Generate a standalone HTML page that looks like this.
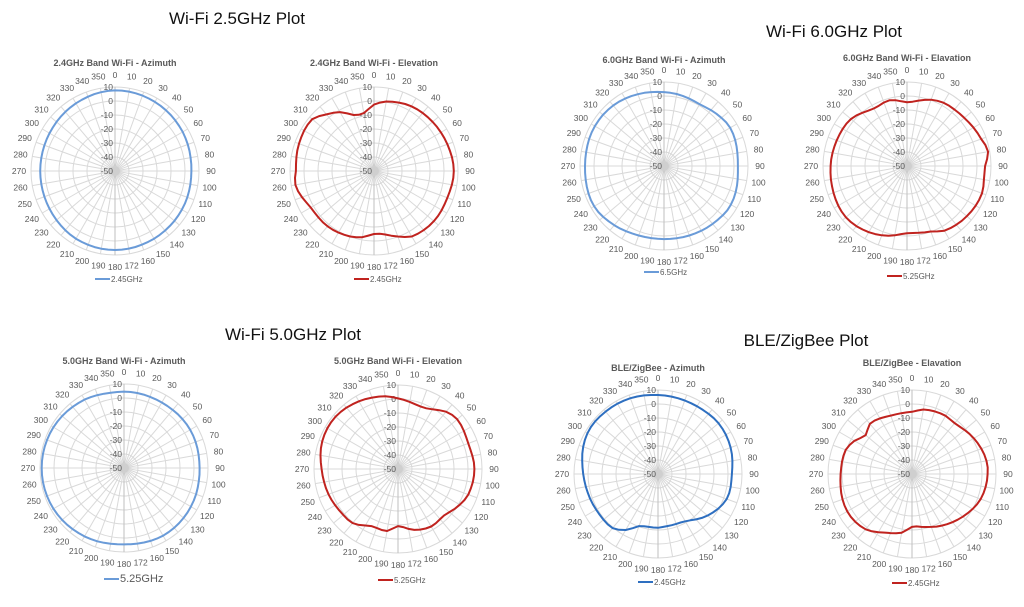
<!DOCTYPE html>
<html><head><meta charset="utf-8">
<style>
html,body{margin:0;padding:0;background:#fff;}
body{width:1024px;height:602px;overflow:hidden;}
svg text{font-family:"Liberation Sans",sans-serif;}
</style></head>
<body>
<svg id="s" width="1024" height="602" viewBox="0 0 1024 602" xmlns="http://www.w3.org/2000/svg">
<text x="237" y="24" font-size="17" text-anchor="middle" fill="#111">Wi-Fi 2.5GHz Plot</text>
<text x="834" y="37" font-size="17" text-anchor="middle" fill="#111">Wi-Fi 6.0GHz Plot</text>
<text x="293" y="340" font-size="17" text-anchor="middle" fill="#111">Wi-Fi 5.0GHz Plot</text>
<text x="806" y="346" font-size="17" text-anchor="middle" fill="#111">BLE/ZigBee Plot</text>
</svg>
<script>
var S=document.getElementById('s'),NS='http://www.w3.org/2000/svg';
function el(t,a,txt){var e=document.createElementNS(NS,t);for(var k in a)e.setAttribute(k,a[k]);if(txt!==undefined)e.textContent=txt;S.appendChild(e);return e;}
var B='#6a9bd8',BD='#2e6fc0',RD='#c0231f';
var plots=[
{cx:115,cy:171,t:'2.4GHz Band Wi-Fi - Azimuth',ty:62,ly:279,lg:'2.45GHz',c:B,d:[[0,.96],[30,.95],[60,.93],[90,.91],[120,.92],[150,.93],[180,.94],[210,.93],[240,.9],[270,.89],[300,.9],[330,.93]]},
{cx:374,cy:171,t:'2.4GHz Band Wi-Fi - Elevation',ty:62,ly:279,lg:'2.45GHz',c:RD,d:[[0,.79],[10,.84],[30,.89],[50,.91],[70,.93],[90,.95],[110,.93],[130,.93],[150,.9],[160,.83],[172,.76],[180,.75],[190,.8],[200,.83],[220,.86],[240,.87],[260,.95],[270,.93],[290,.95],[310,.96],[320,.88],[330,.81],[340,.71],[350,.7]]},
{cx:664,cy:166,t:'6.0GHz Band Wi-Fi - Azimuth',ty:59,ly:272,lg:'6.5GHz',c:B,d:[[0,.88],[10,.87],[30,.85],[45,.88],[60,.91],[90,.88],[120,.92],[140,.9],[160,.88],[180,.87],[200,.88],[220,.92],[240,.96],[270,.94],[300,.95],[320,.94],[340,.91]]},
{cx:907,cy:166,t:'6.0GHz Band Wi-Fi -  Elavation',ty:57,ly:276,lg:'5.25GHz',c:RD,d:[[0,.76],[10,.79],[20,.84],[30,.87],[50,.89],[70,.94],[80,.98],[90,.93],[100,.93],[110,.95],[130,.93],[150,.89],[160,.83],[180,.8],[195,.86],[210,.91],[230,.95],[260,.92],[270,.91],[290,.89],[310,.87],[330,.79],[345,.81]]},
{cx:124,cy:468,t:'5.0GHz Band Wi-Fi - Azimuth',ty:360,ly:579,lg:'5.25GHz',c:B,big:1,d:[[0,.91],[30,.9],[60,.91],[90,.9],[120,.92],[150,.93],[180,.91],[210,.94],[240,.97],[270,.98],[300,.97],[330,.94],[350,.91]]},
{cx:398,cy:469,t:'5.0GHz Band Wi-Fi - Elevation',ty:360,ly:580,lg:'5.25GHz',c:RD,d:[[0,.84],[20,.79],[30,.82],[40,.89],[50,.92],[70,.89],[90,.91],[110,.89],[120,.85],[135,.78],[150,.79],[165,.75],[180,.68],[190,.75],[205,.75],[220,.84],[230,.85],[250,.88],[270,.91],[290,.96],[310,.97],[330,.93],[350,.88]]},
{cx:658,cy:474,t:'BLE/ZigBee - Azimuth',ty:367,ly:582,lg:'2.45GHz',c:BD,d:[[0,.94],[30,.93],[50,.94],[70,.92],[90,.88],[110,.87],[130,.77],[150,.65],[170,.63],[180,.64],[190,.64],[200,.66],[210,.77],[220,.84],[240,.85],[270,.89],[300,.97],[320,.97],[340,.96]]},
{cx:912,cy:474,t:'BLE/ZigBee - Elavation',ty:362,ly:583,lg:'2.45GHz',c:RD,d:[[0,.74],[10,.78],[30,.8],[40,.79],[60,.85],[80,.9],[90,.9],[110,.87],[130,.79],[150,.71],[170,.64],[180,.63],[190,.71],[205,.77],[220,.86],[240,.89],[270,.85],[290,.84],[300,.79],[310,.72],[320,.78],[340,.74]]}
];
function interp(d,a){
 var n=d.length;
 for(var i=0;i<n;i++){var a0=d[i][0],j=(i+1)%n,a1=d[j][0]+(j==0?360:0);
  if(a>=a0&&a<=a1){var f=(a-a0)/(a1-a0);
   var p0=d[(i-1+n)%n][1],p1=d[i][1],p2=d[j][1],p3=d[(j+1)%n][1];
   var f2=f*f,f3=f2*f;
   return 0.5*((2*p1)+(-p0+p2)*f+(2*p0-5*p1+4*p2-p3)*f2+(-p0+3*p1-3*p2+p3)*f3);}}
 return d[0][1];
}
var R=84;
plots.forEach(function(p){
 var cx=p.cx,cy=p.cy;
 for(var i=1;i<=6;i++)el('circle',{cx:cx,cy:cy,r:R*i/6,fill:'none',stroke:'#d9d9d9','stroke-width':1});
 for(var a=0;a<360;a+=10){var t=a*Math.PI/180;el('line',{x1:cx,y1:cy,x2:cx+R*Math.sin(t),y2:cy-R*Math.cos(t),stroke:(a%180==0)?'#bfbfbf':'#d9d9d9','stroke-width':1});
  var lr=R+12,lx=cx+lr*Math.sin(t),ly=cy-lr*Math.cos(t)+3;
  el('text',{x:lx,y:ly,'font-size':8.5,'text-anchor':'middle',fill:'#595959'},a==170?'172':String(a));}
 el('circle',{cx:cx,cy:cy,r:5,fill:'#cfcfcf'});
 var labs=['-50','-40','-30','-20','-10','0','10'];
 for(var i=0;i<=6;i++)el('text',{x:cx-2,y:cy-R*i/6+3,'font-size':8.5,'text-anchor':'end',fill:'#595959'},labs[i]);
 var first=p.d[0][0],pts=[];
 for(var a=0;a<360;a+=5){var aa=a<first?a+360:a;var r=interp(p.d,aa>=360?aa-360:aa)*R;if(a<first)r=interp(p.d,a+360)*R;var t=a*Math.PI/180;pts.push((cx+r*Math.sin(t)).toFixed(1)+','+(cy-r*Math.cos(t)).toFixed(1));}
 el('polygon',{points:pts.join(' '),fill:'none',stroke:p.c,'stroke-width':2,'stroke-linejoin':'round'});
 el('text',{x:cx,y:p.ty+4,'font-size':9,'font-weight':'bold','text-anchor':'middle',fill:'#595959'},p.t);
 var fs=p.big?11:8;
 el('line',{x1:cx-20,y1:p.ly,x2:cx-5,y2:p.ly,stroke:p.c,'stroke-width':2});
 el('text',{x:cx-4,y:p.ly+3,'font-size':fs,fill:'#595959'},p.lg);
});
</script>
</body></html>
